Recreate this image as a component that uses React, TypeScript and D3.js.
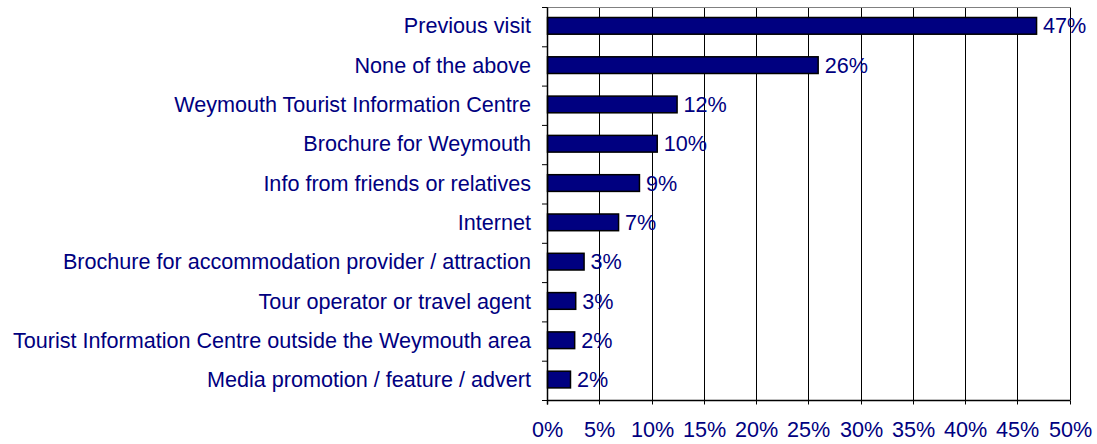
import React from "react";
import * as d3 from "d3";

const categories = [
  "Previous visit",
  "None of the above",
  "Weymouth Tourist Information Centre",
  "Brochure for Weymouth",
  "Info from friends or relatives",
  "Internet",
  "Brochure for accommodation provider / attraction",
  "Tour operator or travel agent",
  "Tourist Information Centre outside the Weymouth area",
  "Media promotion / feature / advert",
];
const values = [46.8, 25.9, 12.4, 10.5, 8.8, 6.8, 3.5, 2.7, 2.6, 2.2];
const valueLabels = ["47%", "26%", "12%", "10%", "9%", "7%", "3%", "3%", "2%", "2%"];
const xTicks = [0, 5, 10, 15, 20, 25, 30, 35, 40, 45, 50];

const W = 1097;
const H = 444;
const margin = { top: 7.5, right: 27.5, bottom: 43.5, left: 547 };
const navy = "#000080";
const font = "'Liberation Sans', Arial, sans-serif";
const fontSize = 21.6;

export default function App() {
  const innerW = W - margin.left - margin.right;
  const innerH = H - margin.top - margin.bottom;

  const x = d3.scaleLinear().domain([0, 50]).range([0, innerW]);
  const y = d3
    .scaleBand<string>()
    .domain(categories)
    .range([0, innerH])
    .paddingInner(0.575)
    .paddingOuter(0.2875);

  const band = y.step();
  const barShift = -1.3; // bars sit a touch above band centre

  return (
    <svg
      width={W}
      height={H}
      style={{ position: "absolute", left: 0, top: 0, background: "#fff" }}
      fontFamily={font}
    >
      <g transform={`translate(${margin.left},${margin.top})`}>
        {/* vertical grid */}
        {xTicks.map((t) => (
          <line
            key={"g" + t}
            x1={Math.round(x(t)) + 0.5}
            x2={Math.round(x(t)) + 0.5}
            y1={0}
            y2={innerH}
            stroke="#000"
            strokeWidth={1}
          />
        ))}
        {/* top frame */}
        <line x1={0} x2={innerW + 0.5} y1={0} y2={0} stroke="#808080" strokeWidth={1} />

        {/* bars */}
        {categories.map((c, i) => (
          <rect
            key={c}
            x={0.5}
            y={(y(c) ?? 0) + barShift}
            width={x(values[i])}
            height={y.bandwidth()}
            fill={navy}
            stroke="#000"
            strokeWidth={1.5}
          />
        ))}

        {/* value labels */}
        {categories.map((c, i) => (
          <text
            key={"v" + c}
            x={x(values[i]) + 7}
            y={(y(c) ?? 0) + barShift + y.bandwidth() / 2}
            dy="0.35em"
            fontSize={fontSize}
            fill={navy}
          >
            {valueLabels[i]}
          </text>
        ))}

        {/* category axis */}
        <line x1={0.5} x2={0.5} y1={0} y2={innerH + 4} stroke="#000" strokeWidth={1.5} />
        {d3.range(categories.length + 1).map((k) => (
          <line
            key={"yt" + k}
            x1={-5}
            x2={0.5}
            y1={k * band}
            y2={k * band}
            stroke="#000"
            strokeWidth={1}
          />
        ))}
        {categories.map((c) => (
          <text
            key={"c" + c}
            x={-16}
            y={(y(c) ?? 0) + barShift + y.bandwidth() / 2}
            dy="0.35em"
            textAnchor="end"
            fontSize={fontSize}
            fill={navy}
          >
            {c}
          </text>
        ))}

        {/* value axis */}
        <line x1={0} x2={innerW + 0.5} y1={innerH} y2={innerH} stroke="#000" strokeWidth={1.5} />
        {xTicks.map((t) => (
          <g key={"xt" + t} transform={`translate(${Math.round(x(t)) + 0.5},${innerH})`}>
            <line y1={0} y2={4} stroke="#000" strokeWidth={1} />
            <text y={36} textAnchor="middle" fontSize={fontSize} fill={navy}>
              {t}%
            </text>
          </g>
        ))}
      </g>
    </svg>
  );
}
